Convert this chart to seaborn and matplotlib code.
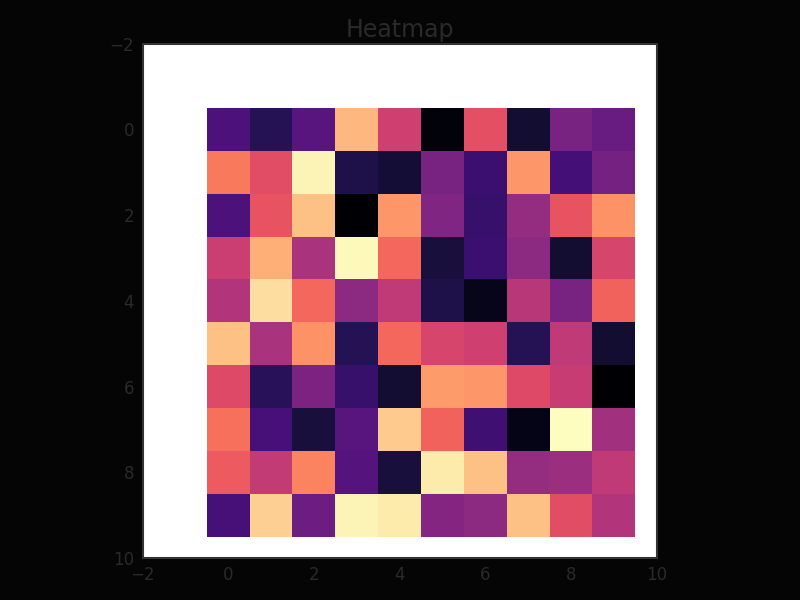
import numpy as np
import matplotlib
matplotlib.use("Agg")
import matplotlib.pyplot as plt
import seaborn as sns

# Cell values (magma scale 0..1)
row0 = [0.24, 0.15, 0.27, 0.85, 0.56, 0.02, 0.62, 0.09, 0.35, 0.31]
row1 = [0.72, 0.61, 0.98, 0.13, 0.10, 0.35, 0.20, 0.78, 0.22, 0.34]
row2 = [0.24, 0.63, 0.87, 0.00, 0.78, 0.37, 0.19, 0.42, 0.63, 0.77]
row3 = [0.55, 0.83, 0.47, 0.99, 0.68, 0.11, 0.20, 0.40, 0.09, 0.58]
row4 = [0.49, 0.93, 0.68, 0.40, 0.52, 0.13, 0.05, 0.50, 0.35, 0.67]
row5 = [0.87, 0.47, 0.77, 0.15, 0.68, 0.58, 0.56, 0.15, 0.52, 0.09]
row6 = [0.60, 0.16, 0.36, 0.19, 0.09, 0.79, 0.78, 0.60, 0.54, 0.00]
row7 = [0.70, 0.23, 0.11, 0.27, 0.89, 0.67, 0.21, 0.04, 1.00, 0.45]
row8 = [0.65, 0.53, 0.74, 0.26, 0.11, 0.96, 0.87, 0.42, 0.44, 0.52]
row9 = [0.23, 0.90, 0.32, 0.98, 0.96, 0.38, 0.40, 0.87, 0.61, 0.49]
tick_vals = [-2, 0, 2, 4, 6, 8, 10]

data = np.array([row0, row1, row2, row3, row4, row5, row6, row7, row8, row9])

sns.set_style("white")
plt.rcParams.update({'font.family': 'DejaVu Sans'})
text_col = '#2a2a2a'

fig = plt.figure(figsize=(8, 6), dpi=100, facecolor='#050505')
ax = fig.add_axes([0.1775, 0.07, 0.644, 0.857])
ax.set_facecolor('white')

sns.heatmap(data, cmap='magma', vmin=0, vmax=1, cbar=False, ax=ax,
            xticklabels=False, yticklabels=False)

# heatmap cells sit at 0..10, shift so cell centres match integer labels
ax.set_xlim(-1.5, 10.5)
ax.set_ylim(10.5, -1.5)
ax.set_aspect('equal')
pos = [t + 0.5 for t in tick_vals]
labels = [str(t).replace('-', '\u2212') for t in tick_vals]
ax.set_xticks(pos)
ax.set_xticklabels(labels, rotation=0)
ax.set_yticks(pos)
ax.set_yticklabels(labels, rotation=0)
ax.tick_params(axis='both', colors=text_col, labelsize=12, length=0, pad=6)

for sp in ax.spines.values():
    sp.set_visible(True)
    sp.set_color('#333333')
    sp.set_linewidth(1.5)

ax.set_title("Heatmap", fontsize=17, color=text_col, pad=5)

fig.savefig("out.png", dpi=100, facecolor=fig.get_facecolor())
